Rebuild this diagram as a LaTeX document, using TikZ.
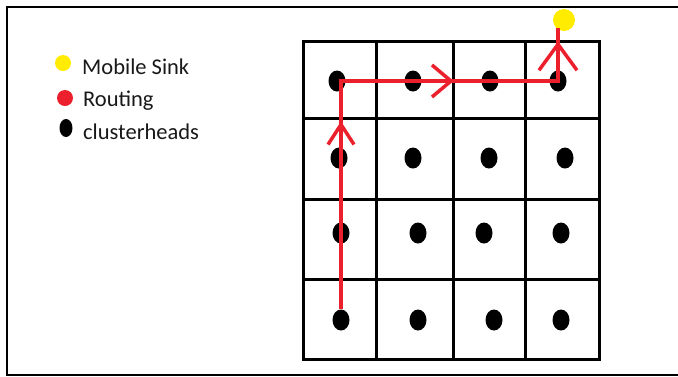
\documentclass[tikz,border=0pt]{standalone}
\usepackage{fontspec}
\setmainfont{Carlito}
\usetikzlibrary{arrows.meta, positioning, shapes.geometric, decorations.markings}
\definecolor{routered}{RGB}{236,32,44}
\definecolor{sinkyellow}{RGB}{255,236,0}

\begin{document}
\begin{tikzpicture}[x=1pt, y=-1pt,
    head/.style={ellipse, fill=black, inner sep=0pt, minimum width=17pt, minimum height=21pt},
    keydot/.style={circle, inner sep=0pt, minimum size=16pt},
    key/.style={anchor=base west, inner sep=0pt, text=black!90, font=\fontsize{22.5}{27}\selectfont},
    route/.style={draw=routered, line width=3.5pt}]
    \useasboundingbox (0,0) rectangle (678,376);
    \draw[line width=2.5pt] (678,7) -- (7,7) -- (7,375) -- (678,375);
    % legend
    \node[keydot, fill=sinkyellow] (ksink) at (63,63) {};
    \node[keydot, fill=routered] (kroute) at (65,98) {};
    \node[head, minimum width=13pt, minimum height=18pt] (khead) at (66,128) {};
    \node[key] (lsink) at (82,74) {Mobile Sink};
    \node[key] (lroute) at (83,106) {Routing};
    \node[key] (lhead) at (83,139) {clusterheads};
    % grid of clusters
    \foreach \x in {303,376,453,525,599}
        \draw[line width=3pt] (\x,41) -- (\x,359);
    \foreach \y in {41,118,199,279,359}
        \draw[line width=3pt, line cap=rect] (303,\y) -- (599,\y);
    % clusterheads
    \foreach \r/\y/\xs in {1/81/{337,413,490,558}, 2/158/{339,413,489,565},
                           3/233/{341,418,484,561}, 4/320/{341,418,494,561}}
        \foreach \x [count=\c] in \xs
            \node[head] (ch\r\c) at (\x,\y) {};
    % mobile sink
    \node[circle, fill=sinkyellow, minimum size=22pt, inner sep=0pt] (sink) at (564,20) {};
    \coordinate (entry) at ([yshift=3pt]sink.south);
    % routing path
    \draw[route, line join=miter, postaction={decorate, decoration={markings,
            mark=at position 188pt with {\arrow[line width=3.5pt]{Straight Barb[length=20pt, width=26pt]}},
            mark=at position 341pt with {\arrow[line width=3.5pt]{Straight Barb[length=19pt, width=32pt]}},
            mark=at position 485pt with {\arrow[line width=3.5pt]{Straight Barb[length=26pt, width=38pt]}}}}]
        (ch41.north) -- (ch41 |- ch14) -- (ch14.center) -- (ch14 |- entry);
\end{tikzpicture}
\end{document}
